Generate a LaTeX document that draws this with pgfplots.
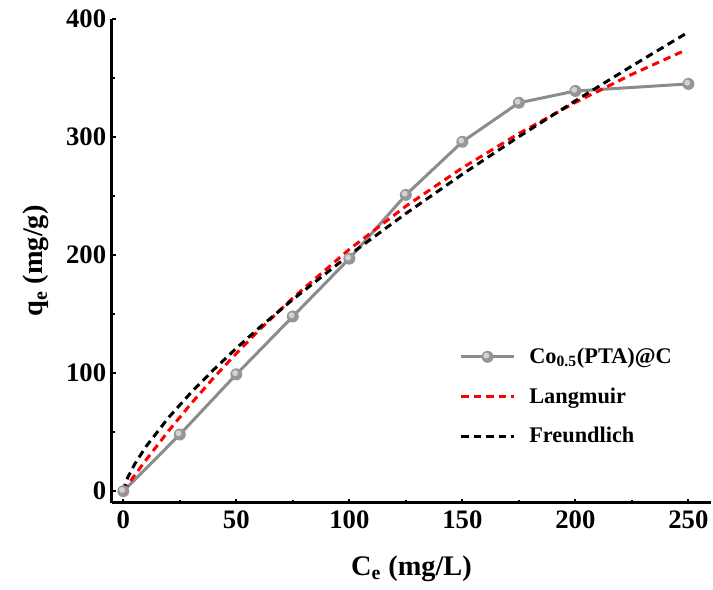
\documentclass[border=0pt]{standalone}
\usepackage{fontspec}
\setmainfont{Liberation Serif}
\usepackage{pgfplots}
\pgfplotsset{compat=1.18}
\definecolor{expgray}{RGB}{140,140,140}
\definecolor{ballgray}{RGB}{150,150,150}
\definecolor{ballhi}{RGB}{210,210,210}
\pgfdeclareplotmark{ball}{%
  \pgfpathcircle{\pgfpointorigin}{\pgfplotmarksize}%
  \pgfsetfillcolor{ballgray}\pgfusepathqfill
  \pgfpathcircle{\pgfpoint{-0.2\pgfplotmarksize}{0.2\pgfplotmarksize}}{0.5\pgfplotmarksize}%
  \pgfsetfillcolor{ballhi}\pgfusepathqfill}

\begin{document}
\begin{tikzpicture}
\begin{axis}[
  scale only axis, width=359.4pt, height=290.4pt,
  xmin=-5, xmax=260, ymin=-10, ymax=400,
  xtick={0,50,...,250}, ytick={0,100,...,400},
  minor xtick={25,75,...,225}, minor ytick={50,150,...,350},
  axis x line*=bottom, axis y line*=left,
  axis line style={line width=1.8pt},
  every tick/.style={black, line width=1.2pt},
  major tick length=2.6pt, minor tick length=1.8pt,
  tick align=inside,
  /pgf/number format/assume math mode=true,
  ticklabel style={font=\fontsize{16}{19}\selectfont\bfseries},
  xticklabel style={yshift=-1pt},
  xlabel={C\textsubscript{e} (mg/L)}, ylabel={q\textsubscript{e} (mg/g)},
  label style={font=\fontsize{17}{20}\selectfont\bfseries},
  xlabel style={at={(axis description cs:0.5,-0.135)}, anchor=center},
  ylabel style={at={(axis description cs:-0.127,0.5)}, anchor=center},
  legend style={draw=none, fill=none, at={(0.572,0.335)}, anchor=north west,
    font=\fontsize{13.4}{16}\selectfont\bfseries, row sep=9pt,
    /tikz/every odd column/.append style={column sep=6.5pt}},
  legend cell align=left,
  legend image code/.code={%
    \draw[mark repeat=2, mark phase=2, #1] plot coordinates {(0cm,0cm) (0.55cm,0cm) (1.1cm,0cm)};},
]
\addplot[expgray, line width=1.8pt, mark=ball, mark size=3.6pt]
  coordinates {(0,0) (25,48) (50,99) (75,148) (100,197) (125,251)
    (150,296) (175,329) (200,339) (250,345)};
\addlegendentry{Co\textsubscript{0.5}(PTA)@C}
\addplot[red, line width=1.8pt, dash pattern=on 4.5pt off 3pt]
  coordinates {(0,0) (5,13.4) (10,26.3) (20,51.0) (30,74.2) (40,96.1)
    (50,116.7) (60,136.3) (75,163.7) (100,204.9) (125,241.4) (150,273.9)
    (175,303.0) (200,329.3) (225,353.1) (248,373.0)};
\addlegendentry{Langmuir}
\addplot[black, line width=1.8pt, dash pattern=on 4.5pt off 3pt]
  coordinates {(0,0) (1,7.1) (2,11.7) (5,22.8) (10,37.7) (20,62.3)
    (30,83.6) (40,103.0) (50,121.1) (60,138.2) (75,162.4) (100,200.1)
    (125,235.2) (150,268.5) (175,300.3) (200,330.7) (225,360.2) (250,388.9)};
\addlegendentry{Freundlich}
\end{axis}
\pgfresetboundingbox
\path ([shift={(-67.2pt,-52.2pt)}]current axis.south west)
  rectangle ([shift={(1.2pt,11.4pt)}]current axis.north east);
\end{tikzpicture}
\end{document}
